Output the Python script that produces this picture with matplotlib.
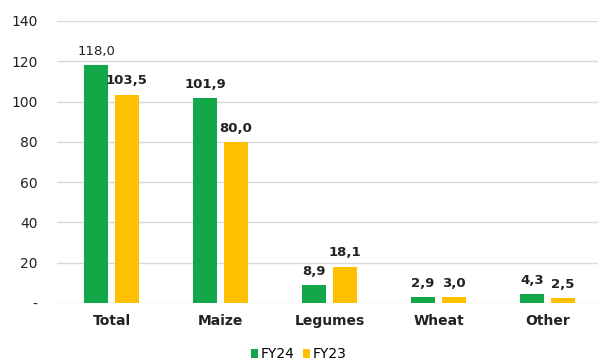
import matplotlib
matplotlib.use("Agg")
import matplotlib.pyplot as plt
import numpy as np

categories = ["Total", "Maize", "Legumes", "Wheat", "Other"]
fy24 = [118.0, 101.9, 8.9, 2.9, 4.3]
fy23 = [103.5, 80.0, 18.1, 3.0, 2.5]
yticks = [0, 20, 40, 60, 80, 100, 120, 140]
ytick_labels = ["-", "20", "40", "60", "80", "100", "120", "140"]

green = "#12A84A"
yellow = "#FFC000"

fig = plt.figure(figsize=(5.98, 3.64), dpi=100)
ax = fig.add_axes([57 / 598, 1 - 303 / 364, 545 / 598, 282 / 364])

x = np.arange(len(categories))
w = 0.22
off = 0.142
b1 = ax.bar(x - off, fy24, w, color=green, label="FY24", zorder=3)
b2 = ax.bar(x + off, fy23, w, color=yellow, label="FY23", zorder=3)


def fmt(v):
    return f"{v:.1f}".replace(".", ",")


for i, (xi, v) in enumerate(zip(x, fy24)):
    ax.text(xi - off, v + 3.5, fmt(v), ha="center", va="bottom",
            fontsize=9.5, fontweight="normal" if i == 0 else "bold",
            color="#222222")
for xi, v in zip(x, fy23):
    ax.text(xi + off, v + 3.5, fmt(v), ha="center", va="bottom",
            fontsize=9.5, fontweight="bold", color="#222222")

ax.set_xlim(-0.5, len(categories) - 0.5)
ax.set_ylim(0, 140)
ax.set_yticks(yticks)
ax.set_yticklabels(ytick_labels, fontsize=10, color="#222222")
ax.set_xticks(x)
ax.set_xticklabels(categories, fontsize=10, fontweight="bold", color="#222222")
ax.tick_params(axis="both", length=0)
ax.tick_params(axis="y", pad=14)
ax.tick_params(axis="x", pad=8)
ax.grid(axis="y", color="#d9d9d9", linewidth=1, zorder=0)
for s in ax.spines.values():
    s.set_visible(False)

fig.legend(handles=[b1, b2], loc="center", bbox_to_anchor=(0.5, 1 - 354 / 364),
           ncol=2, frameon=False, fontsize=10, handlelength=0.5, handleheight=0.6,
           handletextpad=0.2, columnspacing=0.6)

fig.savefig("out.png", dpi=100)
